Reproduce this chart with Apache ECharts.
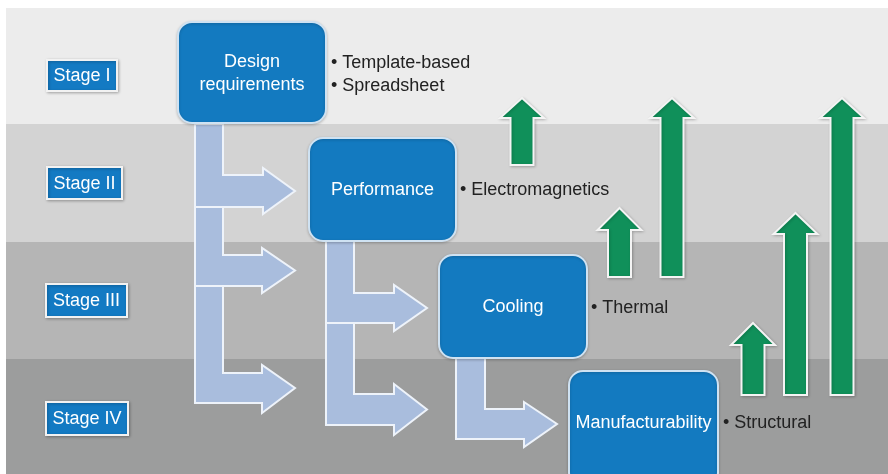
<!DOCTYPE html>
<html>
<head>
<meta charset="utf-8">
<script src="https://cdn.jsdelivr.net/npm/echarts@6/dist/echarts.min.js"></script>
<style>
html, body { margin: 0; padding: 0; background: #fff; }
#main { width: 888px; height: 474px; }
</style>
</head>
<body>
<div id="main"></div>
<script>
// diagram units: x 0..888 left->right, y 0..474 top->bottom
var bandRows = [[8, 124], [124, 242], [242, 359], [359, 474]];
var stageNames = ['Stage I', 'Stage II', 'Stage III', 'Stage IV'];
var stageBoxes = [[47, 60, 117, 91], [47, 167, 122, 199], [46, 284, 127, 317], [46, 402, 128, 435]];
var stepNames = ['Design\nrequirements', 'Performance', 'Cooling', 'Manufacturability'];
var stepBoxes = [[178, 22, 326, 123], [309, 138, 456, 241], [439, 255, 587, 358], [569, 371, 718, 486]];
var bulletTexts = ['Template-based', 'Spreadsheet', 'Electromagnetics', 'Thermal', 'Structural'];
var bulletPos = [[331, 62], [331, 85], [460, 189], [591, 307], [723, 422]];
// stem x0, stem x1, stem top, shaft top, shaft bottom, head top, head bottom, head base x, tip x
var flowArrows = [
  [195, 223, 124, 175, 207, 168, 214, 263, 295],
  [195, 223, 207, 255, 286, 248, 293, 262, 295],
  [195, 223, 286, 373, 403, 365, 413, 262, 295],
  [326, 354, 241, 293, 323, 285, 331, 394, 427],
  [326, 354, 323, 394, 425, 384, 435, 394, 427],
  [456, 485, 358, 409, 439, 402, 447, 524, 557]
];
// centre x, tip y, head base y, bottom y
var upArrows = [
  [522, 98, 118, 165],
  [619.5, 208, 230, 277],
  [672, 98, 118, 277],
  [753, 323, 345, 395],
  [795.5, 213, 234, 395],
  [842, 98, 118, 395]
];

var bandColors = ['#ececec', '#d3d3d3', '#b5b5b5', '#9c9d9d'];
var FONT = '"Liberation Sans", Arial, Helvetica, sans-serif';

function pt(api, x, y) {
  return api.coord([x, y]);
}

var myChart = echarts.init(document.getElementById('main'));

myChart.setOption({
  animation: false,
  backgroundColor: '#ffffff',
  grid: { left: 0, right: 0, top: 0, bottom: 0 },
  xAxis: { type: 'value', min: 0, max: 888, show: false },
  yAxis: { type: 'value', min: 0, max: 474, inverse: true, show: false },
  series: [
    // grey stage bands
    {
      type: 'custom',
      silent: true,
      data: bandRows,
      renderItem: function (params, api) {
        var a = pt(api, 6, api.value(0));
        var b = pt(api, 888, api.value(1));
        return {
          type: 'rect',
          shape: { x: a[0], y: a[1], width: b[0] - a[0], height: b[1] - a[1] },
          style: { fill: bandColors[params.dataIndex] }
        };
      }
    },
    // light blue L-shaped flow arrows
    {
      type: 'custom',
      silent: true,
      data: flowArrows,
      renderItem: function (params, api) {
        var v = [];
        for (var i = 0; i < 9; i++) v.push(api.value(i));
        var mid = (v[3] + v[4]) / 2;
        var pts = [
          pt(api, v[0], v[2]), pt(api, v[1], v[2]), pt(api, v[1], v[3]),
          pt(api, v[7], v[3]), pt(api, v[7], v[5]), pt(api, v[8], mid),
          pt(api, v[7], v[6]), pt(api, v[7], v[4]), pt(api, v[0], v[4])
        ];
        return {
          type: 'polygon',
          shape: { points: pts },
          style: { fill: '#a9bddd', stroke: '#eef3fa', lineWidth: 2 }
        };
      }
    },
    // green upward arrows
    {
      type: 'custom',
      silent: true,
      data: upArrows,
      renderItem: function (params, api) {
        var cx = api.value(0), tip = api.value(1), base = api.value(2), bottom = api.value(3);
        var s = 11.5, h = 22;
        var pts = [
          pt(api, cx, tip), pt(api, cx + h, base), pt(api, cx + s, base),
          pt(api, cx + s, bottom), pt(api, cx - s, bottom), pt(api, cx - s, base),
          pt(api, cx - h, base)
        ];
        return {
          type: 'polygon',
          shape: { points: pts },
          style: {
            fill: '#10905a', stroke: '#f4f4f4', lineWidth: 2,
            shadowBlur: 3, shadowColor: 'rgba(0,0,0,0.2)', shadowOffsetX: 1, shadowOffsetY: 1
          }
        };
      }
    },
    // blue step boxes
    {
      type: 'custom',
      silent: true,
      data: stepBoxes,
      renderItem: function (params, api) {
        var a = pt(api, api.value(0), api.value(1));
        var b = pt(api, api.value(2), api.value(3));
        return {
          type: 'group',
          children: [
            {
              type: 'rect',
              shape: { x: a[0], y: a[1], width: b[0] - a[0], height: b[1] - a[1], r: 14 },
              style: {
                fill: '#137ac0', stroke: '#cfe2f2', lineWidth: 2,
                shadowBlur: 3, shadowColor: 'rgba(0,0,0,0.2)', shadowOffsetY: 1
              }
            },
            {
              type: 'text',
              style: {
                text: stepNames[params.dataIndex],
                x: (a[0] + b[0]) / 2,
                y: params.dataIndex === 3 ? pt(api, 0, 423)[1] : (a[1] + b[1]) / 2 + 1,
                align: 'center',
                verticalAlign: 'middle',
                fill: '#ffffff',
                fontFamily: FONT,
                fontSize: 18,
                lineHeight: 23
              }
            }
          ]
        };
      }
    },
    // stage tags on the left
    {
      type: 'custom',
      silent: true,
      data: stageBoxes,
      renderItem: function (params, api) {
        var a = pt(api, api.value(0), api.value(1));
        var b = pt(api, api.value(2), api.value(3));
        return {
          type: 'group',
          children: [
            {
              type: 'rect',
              shape: { x: a[0], y: a[1], width: b[0] - a[0], height: b[1] - a[1] },
              style: {
                fill: '#137ac3', stroke: '#f2f2f2', lineWidth: 2,
                shadowBlur: 3, shadowColor: 'rgba(0,0,0,0.25)', shadowOffsetX: 1, shadowOffsetY: 1
              }
            },
            {
              type: 'text',
              style: {
                text: stageNames[params.dataIndex],
                x: (a[0] + b[0]) / 2,
                y: (a[1] + b[1]) / 2 + 1,
                align: 'center',
                verticalAlign: 'middle',
                fill: '#ffffff',
                fontFamily: FONT,
                fontSize: 18
              }
            }
          ]
        };
      }
    },
    // bullet notes
    {
      type: 'custom',
      silent: true,
      data: bulletPos,
      renderItem: function (params, api) {
        var p = pt(api, api.value(0), api.value(1));
        return {
          type: 'text',
          style: {
            text: '\u2022 ' + bulletTexts[params.dataIndex],
            x: p[0],
            y: p[1] + 1,
            align: 'left',
            verticalAlign: 'middle',
            fill: '#222222',
            fontFamily: FONT,
            fontSize: 18
          }
        };
      }
    }
  ]
});
</script>
</body>
</html>
